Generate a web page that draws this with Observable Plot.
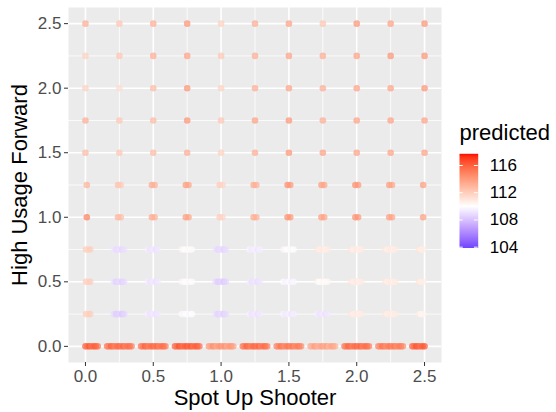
<!DOCTYPE html>
<html><head><meta charset="utf-8">
<script src="https://cdn.jsdelivr.net/npm/d3@7"></script>
<script src="https://cdn.jsdelivr.net/npm/@observablehq/plot@0.6"></script>
<style>
body{margin:0;background:#fff;font-family:"Liberation Sans",Arial,sans-serif;}
#wrap{position:relative;width:556px;height:412px;}
#legend{position:absolute;left:440px;top:110px;}
</style></head><body><div id="wrap"><div id="main"></div><div id="legend"></div></div>
<script>
// Grid values (Spot Up Shooter on x, High Usage Forward on y)
const gridX = [0, 0.25, 0.5, 0.75, 1.0, 1.25, 1.5, 1.75, 2.0, 2.25, 2.5];
const gridY = [0, 0.25, 0.5, 0.75, 1.0, 1.25, 1.5, 1.75, 2.0, 2.25, 2.5];
const majorTicks = [0, 0.5, 1.0, 1.5, 2.0, 2.5];
const minorTicks = [0.25, 0.75, 1.25, 1.75, 2.25];
const legendTicks = [104, 108, 112, 116];

// predicted value per (row = gridY, column = gridX)
const predicted = [
  [116, 115.5, 115.5, 116, 114, 115.5, 115, 113.5, 115.5, 115, 116],            // y = 0
  [112, 108.5, 109.2, 109.9, 108.7, 109.2, 109.4, 109.2, 110.8, 110.8, 110.5],  // y = 0.25
  [112, 108.7, 109.2, 110, 108.5, 109.1, 109.7, 110.2, 110.8, 110.8, 110.8],    // y = 0.5
  [112, 108.9, 109.2, 110.1, 108.8, 109.4, 110, 110.8, 110.8, 110.8, 110.8],    // y = 0.75
  [115.5, 113, 113.5, 114, 112, 113.5, 114.5, 114, 114.5, 114, 114],            // y = 1.0
  [113.5, 112.5, 113.5, 114, 112, 113.5, 114.5, 114, 114.5, 114, 114],          // y = 1.25
  [113, 112.5, 113, 113.5, 112, 113.5, 114.5, 114, 114, 114, 114],              // y = 1.5
  [113.5, 112.5, 113, 114.5, 112.5, 114, 114.5, 113.5, 114, 114, 114],          // y = 1.75
  [112, 111.5, 113, 114.5, 112, 113.5, 114, 113.5, 114, 114, 114.5],            // y = 2.0
  [112, 112.5, 113.5, 114, 112.5, 113.5, 114, 113.5, 114, 114.5, 114.5],        // y = 2.25
  [113.5, 112.5, 113.5, 114.5, 112, 113.5, 114, 112.5, 114.5, 114, 114.5]       // y = 2.5
];

// spread of observed x values around each grid value, per row
const wideOffsets = [-0.09, -0.075, -0.06, -0.045, -0.03, -0.015, 0, 0.015, 0.03, 0.045, 0.06, 0.075, 0.09];
const wideDeltas  = [0.3, -0.4, 0.6, 0, -0.5, 0.2, 0.4, -0.3, 0.5, -0.6, 0.1, 0.3, -0.2];
const midOffsets  = [-0.04, -0.025, -0.01, 0.005, 0.02, 0.035];
const midDeltas   = [0.3, -0.2, 0, 0.2, -0.3, 0.1];
const narrowOffsets = [-0.01, 0.01];
const narrowDeltas  = [0.2, -0.2];
const singleOffsets = [0];
const singleDeltas  = [0];
const rowSpread = ["wide", "mid", "mid", "mid", "narrow", "narrow", "single", "single", "single", "single", "single"];

const spreads = {
  wide: [wideOffsets, wideDeltas],
  mid: [midOffsets, midDeltas],
  narrow: [narrowOffsets, narrowDeltas],
  single: [singleOffsets, singleDeltas]
};

const points = [];
gridY.forEach((yv, i) => {
  const [offs, dels] = spreads[rowSpread[i]];
  gridX.forEach((xv, j) => {
    offs.forEach((o, k) => {
      const x = +(xv + o).toFixed(3);
      if (x < 0 || x > 2.5) return;
      points.push({x, y: yv, predicted: predicted[i][j] + dels[k]});
    });
  });
});

const colorScale = {type: "linear", domain: [102.28, 110, 117.72], range: ["blue", "white", "red"], interpolate: "lab", clamp: true};
const fmt = d => d.toFixed(1);
const FONT = "Liberation Sans, Arial, sans-serif";

const main = Plot.plot({
  width: 556, height: 412,
  marginLeft: 68, marginRight: 115, marginTop: 7, marginBottom: 50,
  style: {fontFamily: FONT, fontSize: "17px", background: "transparent", overflow: "visible"},
  x: {domain: [-0.125, 2.625], axis: null},
  y: {domain: [-0.125, 2.625], axis: null},
  color: colorScale,
  marks: [
    Plot.frame({fill: "#EBEBEB", stroke: null}),
    Plot.ruleX(minorTicks, {x: d => d, stroke: "white", strokeWidth: 0.8}),
    Plot.ruleY(minorTicks, {y: d => d, stroke: "white", strokeWidth: 0.8}),
    Plot.ruleX(majorTicks, {x: d => d, stroke: "white", strokeWidth: 1.6}),
    Plot.ruleY(majorTicks, {y: d => d, stroke: "white", strokeWidth: 1.6}),
    Plot.dot(points, {x: "x", y: "y", fill: "predicted", r: 3.3, fillOpacity: 0.68, stroke: null}),
    Plot.axisX({ticks: majorTicks, tickFormat: fmt, tickSize: 4, tickPadding: 3, label: null, stroke: "#333333", fill: "#4D4D4D", fontSize: 17}),
    Plot.axisY({ticks: majorTicks, tickFormat: fmt, tickSize: 4, tickPadding: 3, label: null, stroke: "#333333", fill: "#4D4D4D", fontSize: 17}),
    Plot.text(["Spot Up Shooter"], {frameAnchor: "bottom", dy: 35, fontSize: 22, fill: "black", lineAnchor: "middle"}),
    Plot.text(["High Usage Forward"], {frameAnchor: "left", dx: -49, rotate: -90, fontSize: 22, fill: "black", textAnchor: "middle", lineAnchor: "middle"})
  ]
});
document.getElementById("main").appendChild(main);

const legend = Plot.plot({
  width: 116, height: 150,
  marginLeft: 0, marginRight: 0, marginTop: 0, marginBottom: 0,
  style: {fontFamily: FONT, fontSize: "17px", background: "transparent", overflow: "visible"},
  x: {domain: [0, 1], range: [19, 37.7], axis: null},
  y: {domain: [103.88, 117.72], range: [137.5, 43.3], axis: null},
  color: colorScale,
  marks: [
    Plot.raster({x1: 0, x2: 1, y1: 103.88, y2: 117.72, fill: (x, y) => y, pixelSize: 1}),
    Plot.ruleY(legendTicks, {y: d => d, x1: 0, x2: 0.2, stroke: "white", strokeWidth: 1}),
    Plot.ruleY(legendTicks, {y: d => d, x1: 0.8, x2: 1, stroke: "white", strokeWidth: 1}),
    Plot.text(legendTicks, {x: 1, y: d => d, text: d => String(d), dx: 11.6, textAnchor: "start", fontSize: 17, fill: "black", lineAnchor: "middle"}),
    Plot.text(["predicted"], {frameAnchor: "top-left", dx: 19, dy: 29, textAnchor: "start", lineAnchor: "bottom", fontSize: 22, fill: "black"})
  ]
});
document.getElementById("legend").appendChild(legend);
</script></body></html>
